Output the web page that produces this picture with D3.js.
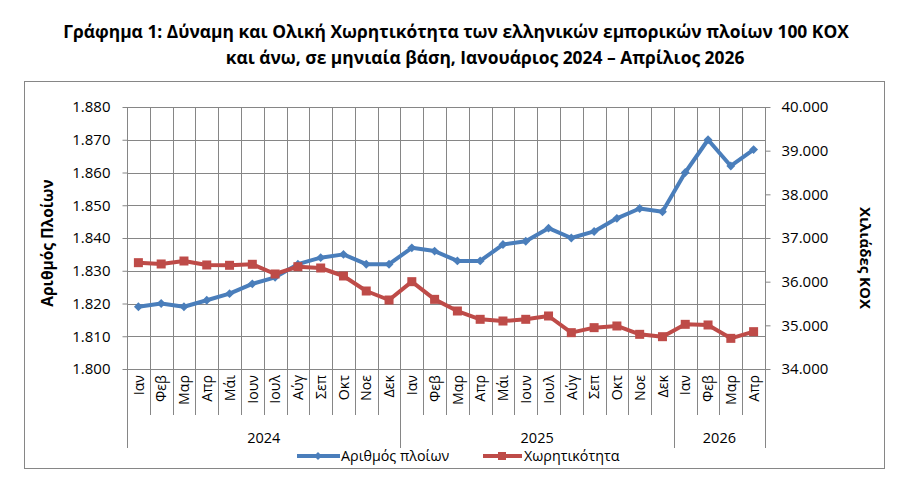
<!DOCTYPE html>
<html><head><meta charset="utf-8">
<script src="https://cdn.jsdelivr.net/npm/d3@7"></script>
<style>body{margin:0;background:#fff}svg{display:block}text{font-family:"Open Sans",sans-serif;fill:#000}</style>
</head><body>
<svg id="c" width="912" height="492"></svg>
<script>
const monthLabels = ["Ιαν","Φεβ","Μαρ","Απρ","Μάι","Ιουν","Ιουλ","Αύγ","Σεπ","Οκτ","Νοε","Δεκ",
                     "Ιαν","Φεβ","Μαρ","Απρ","Μάι","Ιουν","Ιουλ","Αύγ","Σεπ","Οκτ","Νοε","Δεκ",
                     "Ιαν","Φεβ","Μαρ","Απρ"];
const years = ["2024","2025","2026"];
const yearCounts = [12,12,4];
const ships = [1819,1820,1819,1821,1823,1826,1828,1832,1834,1835,1832,1832,
               1837,1836,1833,1833,1838,1839,1843,1840,1842,1846,1849,1848,
               1860,1870,1862,1867];
const tonnage = [36435,36405,36473,36382,36375,36398,36176,36343,36313,36130,35786,35580,
                 36000,35595,35328,35138,35099,35138,35214,34832,34947,34985,34794,34740,
                 35023,35008,34702,34855];
const leftTicks = [1800,1810,1820,1830,1840,1850,1860,1870,1880];
const rightTicks = [34000,35000,36000,37000,38000,39000,40000];
const seriesNames = ["Αριθμός πλοίων","Χωρητικότητα"];
const titleLines = ["Γράφημα 1: Δύναμη και Ολική Χωρητικότητα των ελληνικών εμπορικών πλοίων 100 ΚΟΧ",
                    "και άνω, σε μηνιαία βάση, Ιανουάριος 2024 – Απρίλιος 2026"];
const leftTitle = "Αριθμός Πλοίων";
const rightTitle = "Χιλιάδες ΚΟΧ";

const loc = d3.formatLocale({decimal:",", thousands:".", grouping:[3], currency:["","€"]});
const fmt = loc.format(",d");
const svg = d3.select("#c");
const L=127, R=765, T=107, B=369;
const grid="#868686", blue="#4A7EBB", red="#BE4B48";

// chart frame
svg.append("rect").attr("x",24.5).attr("y",81.5).attr("width",860).attr("height",387)
  .attr("fill","none").attr("stroke",grid).attr("stroke-width",1);

// title
svg.append("text").attr("x",456).attr("y",38).attr("text-anchor","middle")
  .attr("font-weight","bold").attr("font-size",17.4).text(titleLines[0]);
svg.append("text").attr("x",485).attr("y",64).attr("text-anchor","middle")
  .attr("font-weight","bold").attr("font-size",17.4).text(titleLines[1]);

const idx = d3.range(monthLabels.length);
const x = d3.scaleBand().domain(idx).range([L,R]).padding(0);
const yL = d3.scaleLinear().domain([1800,1880]).range([B,T]);
const yR = d3.scaleLinear().domain([34000,40000]).range([B,T]);

// horizontal grid
svg.append("g").selectAll("line").data(leftTicks).join("line")
  .attr("x1",L).attr("x2",R).attr("y1",d=>Math.round(yL(d))+0.5).attr("y2",d=>Math.round(yL(d))+0.5)
  .attr("stroke",grid);
// vertical grid (category boundaries)
const bounds = d3.range(monthLabels.length+1).map(i=> i<monthLabels.length ? x(i) : x(i-1)+x.bandwidth());
svg.append("g").selectAll("line").data(bounds).join("line")
  .attr("x1",d=>Math.round(d)+0.5).attr("x2",d=>Math.round(d)+0.5).attr("y1",T).attr("y2",415)
  .attr("stroke",grid);
// year separators
const yearStarts=[0]; yearCounts.forEach((c,i)=>yearStarts.push(yearStarts[i]+c));
svg.append("g").selectAll("line").data(yearStarts).join("line")
  .attr("x1",d=>Math.round(bounds[d])+0.5).attr("x2",d=>Math.round(bounds[d])+0.5).attr("y1",415).attr("y2",448)
  .attr("stroke",grid);

// left axis
const gl = svg.append("g").attr("transform",`translate(${L+0.5},0)`)
  .call(d3.axisLeft(yL).tickValues(leftTicks).tickFormat(fmt).tickSize(5).tickPadding(12));
gl.select(".domain").attr("stroke",grid).attr("d",`M0,${T}V${B}`);
gl.selectAll(".tick line").attr("stroke",grid);
gl.selectAll(".tick text").attr("font-size",15).attr("font-family","Open Sans");
// right axis
const gr = svg.append("g").attr("transform",`translate(${R+0.5},0)`)
  .call(d3.axisRight(yR).tickValues(rightTicks).tickFormat(fmt).tickSize(5).tickPadding(11));
gr.select(".domain").attr("stroke",grid).attr("d",`M0,${T}V${B}`);
gr.selectAll(".tick line").attr("stroke",grid);
gr.selectAll(".tick text").attr("font-size",15).attr("font-family","Open Sans");

// month labels
svg.append("g").selectAll("text").data(idx).join("text")
  .attr("transform",i=>`translate(${x(i)+x.bandwidth()/2+5.2},375) rotate(-90)`)
  .attr("text-anchor","end").attr("font-size",14.2).text(i=>monthLabels[i]);
// year labels
svg.append("g").selectAll("text").data(years).join("text")
  .attr("x",(d,i)=>(bounds[yearStarts[i]]+bounds[yearStarts[i+1]])/2).attr("y",443)
  .attr("text-anchor","middle").attr("font-size",14.5).text(d=>d);

// axis titles
svg.append("text").attr("transform","translate(53,243) rotate(-90)").attr("text-anchor","middle")
  .attr("font-weight","bold").attr("font-size",15.5).text(leftTitle);
svg.append("text").attr("transform","translate(860,258) rotate(90)").attr("text-anchor","middle")
  .attr("font-weight","bold").attr("font-size",15).text(rightTitle);

// lines
const cx = i=>x(i)+x.bandwidth()/2;
const lineL = d3.line().x((d,i)=>cx(i)).y(d=>yL(d));
const lineR = d3.line().x((d,i)=>cx(i)).y(d=>yR(d));
svg.append("path").datum(ships).attr("d",lineL).attr("fill","none").attr("stroke",blue)
  .attr("stroke-width",4).attr("stroke-linejoin","round");
svg.append("g").selectAll("path").data(ships).join("path")
  .attr("d",d3.symbol(d3.symbolDiamond2,50)).attr("transform",(d,i)=>`translate(${cx(i)},${yL(d)})`)
  .attr("fill",blue);
svg.append("path").datum(tonnage).attr("d",lineR).attr("fill","none").attr("stroke",red)
  .attr("stroke-width",4).attr("stroke-linejoin","round");
svg.append("g").selectAll("rect").data(tonnage).join("rect")
  .attr("x",(d,i)=>cx(i)-4.5).attr("y",d=>yR(d)-4.5).attr("width",9).attr("height",9).attr("fill",red);

// legend
const lg = svg.append("g");
lg.append("line").attr("x1",297).attr("x2",340).attr("y1",456).attr("y2",456).attr("stroke",blue).attr("stroke-width",4);
lg.append("path").attr("d",d3.symbol(d3.symbolDiamond2,40)).attr("transform","translate(318,456)").attr("fill",blue);
lg.append("text").attr("x",341).attr("y",461).attr("font-size",14.3).text(seriesNames[0]);
lg.append("line").attr("x1",483).attr("x2",522).attr("y1",456).attr("y2",456).attr("stroke",red).attr("stroke-width",4);
lg.append("rect").attr("x",498).attr("y",452).attr("width",8).attr("height",8).attr("fill",red);
lg.append("text").attr("x",524).attr("y",461).attr("font-size",14.3).text(seriesNames[1]);
</script>
</body></html>
